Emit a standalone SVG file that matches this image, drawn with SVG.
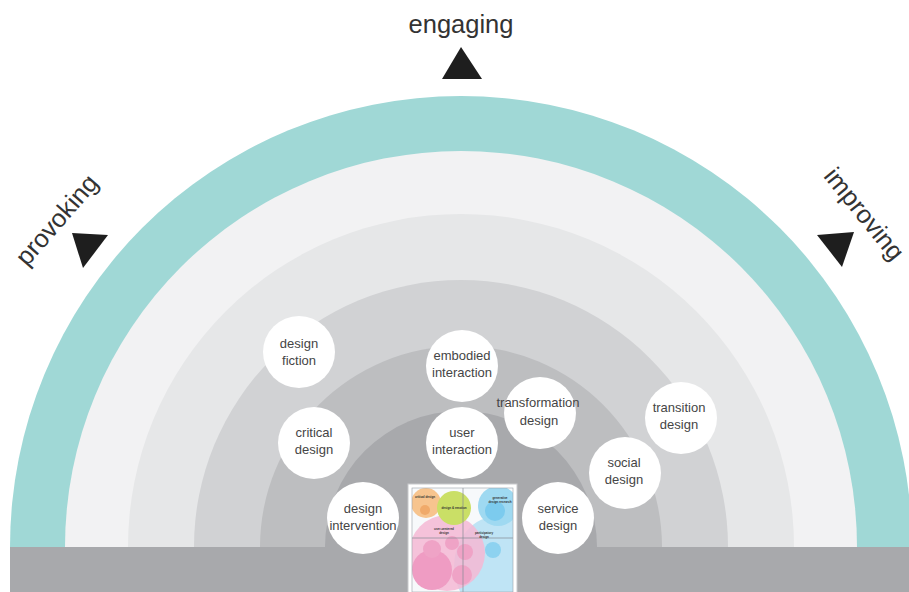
<svg xmlns="http://www.w3.org/2000/svg" width="909" height="592" viewBox="0 0 909 592">
<style>
.lbl{font-family:"Liberation Sans",Arial,sans-serif;font-size:25.5px;fill:#333333}
.nt{font-family:"Liberation Sans",Arial,sans-serif;font-size:13px;fill:#454545;text-anchor:middle}
.node{fill:#ffffff}
.tri{fill:#1e1e1e}
.mt{font-family:"Liberation Sans",Arial,sans-serif;font-size:3px;font-weight:bold;fill:#333;text-anchor:middle}
</style>
<rect width="909" height="592" fill="#ffffff"/>
<g id="rings">
<path d="M10,547 A451,451 0 0 1 912,547 Z" fill="#a0d8d6"/>
<path d="M65,547 A396,396 0 0 1 857,547 Z" fill="#f2f2f3"/>
<path d="M128,547 A333,333 0 0 1 794,547 Z" fill="#e6e7e8"/>
<path d="M194,547 A267,267 0 0 1 728,547 Z" fill="#d1d2d4"/>
<path d="M260,547 A201,201 0 0 1 662,547 Z" fill="#bdbec0"/>
<path d="M325,547 A136,136 0 0 1 597,547 Z" fill="#a8a9ac"/>
<rect x="10" y="547" width="899" height="45" fill="#a8a9ac"/>
</g>
<g id="directions">
<text class="lbl" x="461" y="33" text-anchor="middle">engaging</text>
<polygon class="tri" points="461,47 442,79 482,79"/>
<text class="lbl" transform="translate(58,221) rotate(-49)" x="0" y="7" text-anchor="middle">provoking</text>
<polygon class="tri" points="72,233 108,235 83,268"/>
<text class="lbl" transform="translate(863,215) rotate(51)" x="0" y="7" text-anchor="middle">improving</text>
<polygon class="tri" points="817,235 854,232 842,267"/>
</g>
<g id="connectors"></g>
<g id="design-fiction"><circle class="node" cx="299" cy="352" r="36"/><text class="nt" x="299" y="348">design</text><text class="nt" x="299" y="365">fiction</text></g>
<g id="embodied-interaction"><circle class="node" cx="462" cy="366" r="36"/><text class="nt" x="462" y="360">embodied</text><text class="nt" x="462" y="377">interaction</text></g>
<g id="critical-design"><circle class="node" cx="314" cy="443" r="36"/><text class="nt" x="314" y="437">critical</text><text class="nt" x="314" y="454">design</text></g>
<g id="user-interaction"><circle class="node" cx="462" cy="443" r="36"/><text class="nt" x="462" y="437">user</text><text class="nt" x="462" y="454">interaction</text></g>
<g id="design-intervention"><circle class="node" cx="363" cy="518" r="36"/><text class="nt" x="363" y="513">design</text><text class="nt" x="363" y="530">intervention</text></g>
<g id="transformation-design"><circle class="node" cx="540" cy="413" r="36"/><text class="nt" x="538" y="407">transformation</text><text class="nt" x="539" y="425">design</text></g>
<g id="social-design"><circle class="node" cx="625" cy="473" r="36"/><text class="nt" x="624" y="467">social</text><text class="nt" x="624" y="484">design</text></g>
<g id="transition-design"><circle class="node" cx="681" cy="418" r="36"/><text class="nt" x="679" y="412">transition</text><text class="nt" x="679" y="429">design</text></g>
<g id="service-design"><circle class="node" cx="558" cy="518" r="36"/><text class="nt" x="558" y="513">service</text><text class="nt" x="558" y="530">design</text></g>
<g id="research-map">
<rect x="408" y="484" width="109" height="110" fill="#ffffff" stroke="#c8c9cc" stroke-width="1"/>
<clipPath id="mapclip"><rect x="412" y="488" width="101" height="104"/></clipPath>
<g clip-path="url(#mapclip)">
<rect x="412" y="488" width="101" height="104" fill="#f7f9fb"/>
<ellipse cx="498" cy="566" rx="44" ry="50" fill="#bfe4f5"/>
<circle cx="447" cy="553" r="38" fill="#f4b8d3" opacity="0.85"/>
<circle cx="498" cy="506" r="20" fill="#9fd9f1"/>
<circle cx="495" cy="511" r="10" fill="#7ccbee"/>
<circle cx="426" cy="503" r="15" fill="#f7c48e"/>
<circle cx="425" cy="510" r="5" fill="#f0aa6a"/>
<circle cx="454" cy="508" r="17" fill="#cadf66"/>
<circle cx="432" cy="570" r="20" fill="#ef9cc3"/>
<circle cx="432" cy="549" r="9" fill="#efa3c6"/>
<circle cx="452" cy="543" r="7" fill="#efa3c6"/>
<circle cx="465" cy="552" r="8" fill="#efa3c6"/>
<circle cx="462" cy="575" r="10" fill="#efa3c6"/>
<circle cx="493" cy="550" r="8" fill="#8dd2f0"/>
<line x1="463" y1="488" x2="463" y2="592" stroke="#858a94" stroke-width="0.7"/>
<line x1="412" y1="538" x2="513" y2="538" stroke="#858a94" stroke-width="0.7"/>
<text class="mt" x="425" y="498">critical design</text>
<text class="mt" x="454" y="509">design &amp; emotion</text>
<text class="mt" x="500" y="499">generative</text>
<text class="mt" x="500" y="503">design research</text>
<text class="mt" x="444" y="530">user-centered</text>
<text class="mt" x="444" y="534">design</text>
<text class="mt" x="484" y="534">participatory</text>
<text class="mt" x="484" y="538">design</text>
</g>
<rect x="412" y="488" width="101" height="104" fill="none" stroke="#9aa0a8" stroke-width="0.6"/>
</g>
</svg>
